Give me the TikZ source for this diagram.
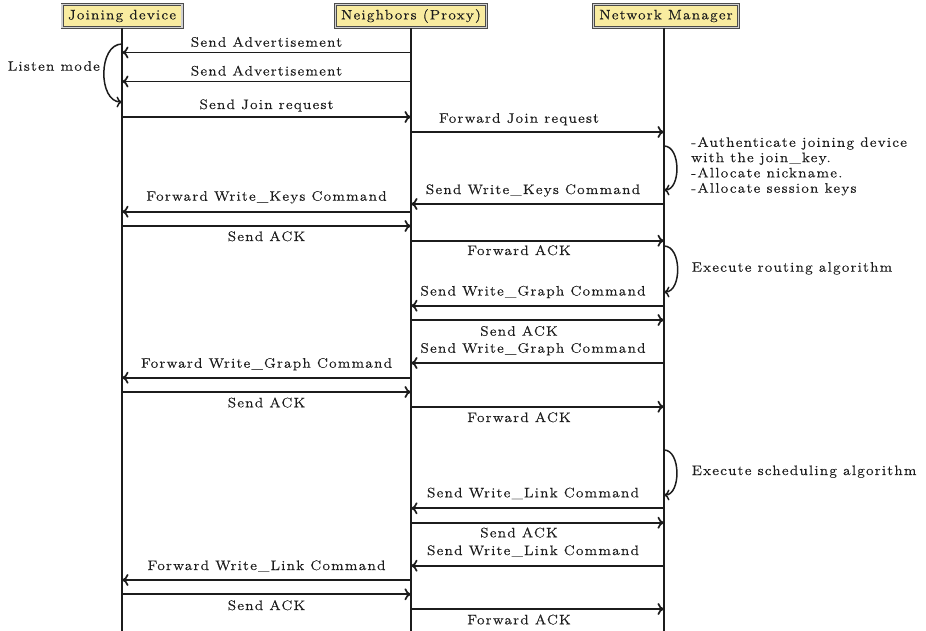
\documentclass[tikz,border=0pt]{standalone}
\usepackage{fontspec}
\usetikzlibrary{arrows.meta}
\newfontfamily\seqface{Latin Modern Roman}[FakeStretch=1.12,LetterSpace=9,FakeBold=0.4]
\definecolor{headfill}{RGB}{249,236,160}
\definecolor{ink}{RGB}{28,28,28}
\tikzset{
  seqfont/.style={font=\seqface\fontsize{13.7}{15.3}\selectfont},
  header/.style={seqfont, draw=black!70, double=black!18, double distance=1.4pt,
    line width=0.8pt, fill=headfill, inner sep=0pt, text=ink},
  life/.style={draw=ink, line width=1.9pt},
  msg/.style={draw=ink, line width=1.7pt, -{To[length=6.5pt,width=12pt]}},
  selfloop/.style={draw=ink, line width=1.5pt, -{To[length=5.5pt,width=11pt]}},
  lbl/.style={seqfont, text=ink, inner sep=0pt, anchor=base},
  note/.style={seqfont, text=ink, inner sep=0pt, anchor=base west, align=left}
}
\begin{document}
\begin{tikzpicture}[x=1pt,y=-1pt]
\useasboundingbox (0,0) rectangle (926,631);

% participants
\node[header, minimum width=120pt, minimum height=23pt] (jd) at (122,16) {Joining device};
\node[header, minimum width=151pt, minimum height=23pt] (nb) at (411,16) {Neighbors (Proxy)};
\node[header, minimum width=145pt, minimum height=23pt] (nm) at (666,16) {Network Manager};

% lifelines
\coordinate (jdb) at (122,631);
\coordinate (nbb) at (411,631);
\coordinate (nmb) at (664,631);
\draw[life] (jd.south) -- (jdb);
\draw[life] (nb.south) -- (nbb);
\draw[life] (nm.south -| nmb) -- (nmb);

% messages: id / from x / to x / y / label x / label baseline / text
\foreach \n/\xa/\xb/\y/\lx/\ly/\txt in {
  1/411/122/52.5/266.5/46.7/Send Advertisement,
  2/411/122/81.5/266.5/75.5/Send Advertisement,
  3/122/411/117/266.5/109/Send Join request,
  4/411/664/132/519/122.7/Forward Join request,
  5/664/411/204/533/194/Send Write\_Keys Command,
  6/411/122/211.7/266.5/200.7/Forward Write\_Keys Command,
  7/122/411/226/266.5/241/Send ACK,
  8/411/664/240.7/519/255/Forward ACK,
  9/664/411/305.7/533/295.5/Send Write\_Graph Command,
  10/411/664/320/519/335.7/Send ACK,
  11/664/411/363/533/352.7/Send Write\_Graph Command,
  12/411/122/377.7/266.5/367.7/Forward Write\_Graph Command,
  13/122/411/392/266.5/407.3/Send ACK,
  14/411/664/406.7/519/422/Forward ACK,
  15/664/411/508.3/533/497.3/Send Write\_Link Command,
  16/411/664/522.7/519/537.3/Send ACK,
  17/664/411/565.7/533/555/Send Write\_Link Command,
  18/411/122/580/266.5/570/Forward Write\_Link Command,
  19/122/411/594.3/266.5/610/Send ACK,
  20/411/664/609/519/624.3/Forward ACK}{
  \coordinate (m\n s) at (\xa,\y);
  \coordinate (m\n e) at (\xb,\y);
  \draw[msg] (m\n s) -- (m\n e);
  \node[lbl] (l\n) at (\lx,\ly) {\txt};
}

% listen mode on the joining device
\coordinate (lma) at (122,44);
\coordinate (lmb) at (122,102);
\draw[selfloop] (lma) .. controls (98,44) and (98,102) .. (lmb);
\node[lbl, anchor=base east] (listen) at (100,70.7) {Listen mode};

% processing steps at the network manager
\coordinate (au1) at (664,146);
\coordinate (au2) at (664,190);
\draw[selfloop] (au1) .. controls (681,146) and (681,190) .. (au2);
\node[note] (auth) at (691,192.7) {-Authenticate joining device\\with the join\_key.\\-Allocate nickname.\\-Allocate session keys};

\coordinate (ro1) at (664,246);
\coordinate (ro2) at (664,292);
\draw[selfloop] (ro1) .. controls (682,246) and (682,292) .. (ro2);
\node[note] (route) at (691.5,271.7) {Execute routing algorithm};

\coordinate (sc1) at (664,450);
\coordinate (sc2) at (664,495);
\draw[selfloop] (sc1) .. controls (681,450) and (681,495) .. (sc2);
\node[note] (sched) at (691.5,475) {Execute scheduling algorithm};
\end{tikzpicture}
\end{document}
